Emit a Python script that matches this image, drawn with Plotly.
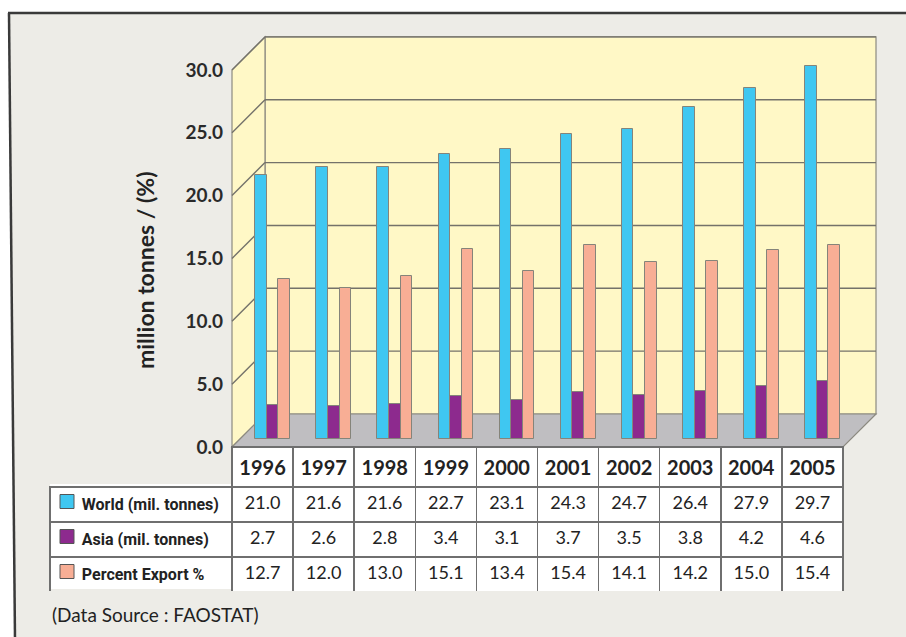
import plotly.graph_objects as go

# ---------------- data ----------------
years = ['1996', '1997', '1998', '1999', '2000', '2001', '2002', '2003', '2004', '2005']
world = [21.0, 21.6, 21.6, 22.7, 23.1, 24.3, 24.7, 26.4, 27.9, 29.7]
asia = [2.7, 2.6, 2.8, 3.4, 3.1, 3.7, 3.5, 3.8, 4.2, 4.6]
pct_export = [12.7, 12.0, 13.0, 15.1, 13.4, 15.4, 14.1, 14.2, 15.0, 15.4]
series_names = ['World (mil. tonnes)', 'Asia (mil. tonnes)', 'Percent Export %']
y_ticks = [0, 5, 10, 15, 20, 25, 30]
source_text = '(Data Source : FAOSTAT)'
y_title = 'million tonnes / (%)'

# ---------------- styling ----------------
W, H = 906, 637
C_WORLD = '#3FC7F1'
C_ASIA = '#8D2A8E'
C_PCT = '#F8AE95'
C_WALL = '#FFF8C6'
C_FLOOR = '#BFBEC1'
C_BG = '#EDECE7'
C_GRID = '#74726a'
C_EDGE = '#8c8a80'
FONT = 'Lato'

FRONT_L, FRONT_R = 232, 843     # front edge x (pixels)
DX, DY = 33, 33                 # depth offset
FRONT0 = 447                    # pixel y of 0 on front
PXU = 12.57                     # pixels per unit
BAR0 = 439                      # pixel y of bar base
PLOT_TOP = 30


def px(x):
    return x / W


def py(y):
    return 1 - y / H


def path(pts):
    return 'M ' + ' L '.join(f'{px(x):.5f},{py(y):.5f}' for x, y in pts) + ' Z'


shapes = []
# panel background + frame
shapes.append(dict(type='path', xref='paper', yref='paper', layer='below',
                   path=path([(9, 13), (W + 2, 13), (W + 2, H + 2), (15, H + 2)]),
                   fillcolor=C_BG, line=dict(width=0)))
shapes.append(dict(type='line', xref='paper', yref='paper', layer='below',
                   x0=px(8), y0=py(13), x1=px(W + 2), y1=py(13),
                   line=dict(color='#3a3a3a', width=2.5)))
shapes.append(dict(type='line', xref='paper', yref='paper', layer='below',
                   x0=px(9), y0=py(13), x1=px(15), y1=py(H + 2),
                   line=dict(color='#3a3a3a', width=2.5)))

BACK_L, BACK_R = FRONT_L + DX, FRONT_R + DX
BACK0 = FRONT0 - DY
top_v = y_ticks[-1]
# back wall
shapes.append(dict(type='path', xref='paper', yref='paper', layer='below',
                   path=path([(BACK_L, BACK0 - top_v * PXU), (BACK_R, BACK0 - top_v * PXU),
                              (BACK_R, BACK0), (BACK_L, BACK0)]),
                   fillcolor=C_WALL, line=dict(color=C_EDGE, width=1.2)))
# left wall
shapes.append(dict(type='path', xref='paper', yref='paper', layer='below',
                   path=path([(FRONT_L, FRONT0), (FRONT_L, FRONT0 - top_v * PXU),
                              (BACK_L, BACK0 - top_v * PXU), (BACK_L, BACK0)]),
                   fillcolor=C_WALL, line=dict(color=C_EDGE, width=1.2)))
# floor
shapes.append(dict(type='path', xref='paper', yref='paper', layer='below',
                   path=path([(FRONT_L, FRONT0), (FRONT_R, FRONT0), (BACK_R, BACK0), (BACK_L, BACK0)]),
                   fillcolor=C_FLOOR, line=dict(color=C_EDGE, width=1.2)))
# gridlines
for v in y_ticks[1:]:
    yb = BACK0 - v * PXU
    yf = FRONT0 - v * PXU
    shapes.append(dict(type='line', xref='paper', yref='paper', layer='below',
                       x0=px(BACK_L), y0=py(yb), x1=px(BACK_R), y1=py(yb),
                       line=dict(color=C_GRID, width=1.4)))
    shapes.append(dict(type='line', xref='paper', yref='paper', layer='below',
                       x0=px(FRONT_L), y0=py(yf), x1=px(BACK_L), y1=py(yb),
                       line=dict(color=C_GRID, width=1.4)))

# ---------------- table geometry ----------------
TAB_L, TAB_T = 50, 447
HEAD_H, ROW_H = 37, 35
LAB_W = FRONT_L - TAB_L
COL_W = (FRONT_R - FRONT_L) / len(years)
# white background for label column + swatches
shapes.append(dict(type='rect', xref='paper', yref='paper', layer='below',
                   x0=px(TAB_L), x1=px(FRONT_L), y0=py(TAB_T + HEAD_H),
                   y1=py(TAB_T + HEAD_H + 3 * ROW_H), fillcolor='white', line=dict(width=0)))
for i, c in enumerate([C_WORLD, C_ASIA, C_PCT]):
    cy = TAB_T + HEAD_H + ROW_H * (i + 0.5)
    shapes.append(dict(type='rect', xref='paper', yref='paper', layer='below',
                       x0=px(60), x1=px(74), y0=py(cy - 7), y1=py(cy + 7),
                       fillcolor=c, line=dict(color='#555', width=1)))

fig = go.Figure()

# ---------------- bars ----------------
xs = list(range(len(years)))
bw = 0.19
shift = 0.165
for k, (vals, col, name) in enumerate(zip([world, asia, pct_export], [C_WORLD, C_ASIA, C_PCT], series_names)):
    fig.add_trace(go.Bar(x=xs, y=vals, width=bw, offset=shift - 1.5 * bw + k * bw,
                         marker=dict(color=col, line=dict(color='#85847a', width=1)),
                         name=name, showlegend=False, hoverinfo='y'))

# invisible trace carrying the labelled value axis
fig.add_trace(go.Scatter(x=[0, 0], y=[y_ticks[0], y_ticks[-1]], yaxis='y2', mode='markers',
                         marker=dict(opacity=0), showlegend=False, hoverinfo='skip'))

# ---------------- table ----------------
nb = '\u00a0' * 6
label_cells = [nb + '<b>' + n.replace(' ', '\u00a0') + '</b>' for n in series_names]
value_cols = [[f'{world[i]:.1f}', f'{asia[i]:.1f}', f'{pct_export[i]:.1f}'] for i in range(len(years))]
fig.add_trace(go.Table(
    domain=dict(x=[px(TAB_L), px(FRONT_R)], y=[py(TAB_T + HEAD_H + 3 * ROW_H + 3), py(TAB_T)]),
    columnwidth=[LAB_W] + [COL_W] * len(years),
    header=dict(values=[''] + [f'<b>{y}</b>' for y in years],
                height=HEAD_H, align='center',
                fill=dict(color=['rgba(0,0,0,0)'] + ['white'] * len(years)),
                line=dict(color=['rgba(0,0,0,0)'] + ['#6f6f6f'] * len(years), width=1.5),
                font=dict(family=FONT, size=20, color='#222')),
    cells=dict(values=[label_cells] + value_cols, height=ROW_H,
               align=['left'] + ['center'] * len(years),
               fill=dict(color=['rgba(0,0,0,0)'] + ['white'] * len(years)),
               line=dict(color='#6f6f6f', width=1.5),
               font=dict(family=['Roboto'] + [FONT] * len(years),
                         size=[16] + [18] * len(years), color='#222')),
))

y_top_val = (BAR0 - PLOT_TOP) / PXU
fig.update_layout(
    template='none',
    width=W, height=H, margin=dict(l=0, r=0, t=0, b=0, pad=0, autoexpand=False),
    paper_bgcolor='white', plot_bgcolor='rgba(0,0,0,0)',
    shapes=shapes, bargap=0, showlegend=False,
    xaxis=dict(domain=[px(FRONT_L), px(FRONT_R)], range=[-0.5, len(years) - 0.5],
               visible=False, fixedrange=True, automargin=False),
    yaxis=dict(domain=[py(BAR0), py(PLOT_TOP)], range=[0, y_top_val], visible=False,
               fixedrange=True, automargin=False),
    yaxis2=dict(domain=[py(FRONT0), py(FRONT0 - y_ticks[-1] * PXU)], range=[y_ticks[0], y_ticks[-1]],
                anchor='free', position=px(FRONT_L), side='left',
                tickvals=y_ticks, ticktext=[f'{v:.1f}' for v in y_ticks],
                showgrid=False, zeroline=False, showline=False, ticks='',
                ticklabelstandoff=9, automargin=False,
                tickfont=dict(family=FONT, size=19, color='#2a2a2a', weight='bold'),
                fixedrange=True),
    annotations=[
        dict(text=f'<b>{y_title}</b>', xref='paper', yref='paper', x=px(145), y=py(270),
             xanchor='center', yanchor='middle',
             textangle=-90, showarrow=False, font=dict(family=FONT, size=23, color='#222')),
        dict(text=source_text, xref='paper', yref='paper', x=px(50), y=py(614),
             xanchor='left', yanchor='middle', showarrow=False,
             font=dict(family=FONT, size=19, color='#222')),
    ],
)

fig.write_html('out.html')
